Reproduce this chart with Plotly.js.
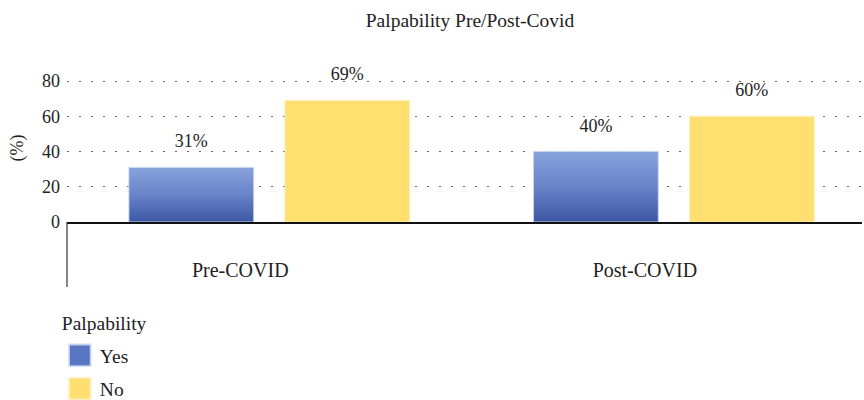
<!DOCTYPE html>
<html>
<head>
<meta charset="utf-8">
<script src="https://cdn.plot.ly/plotly-3.0.1.min.js"></script>
<style>html,body{margin:0;padding:0;background:#fff;}</style>
</head>
<body>
<div id="chart" style="width:864px;height:400px;"></div>
<script>
const categories = ["Pre-COVID", "Post-COVID"];
const seriesNames = ["Yes", "No"];
const yesValues = [31, 40];
const noValues = [69, 60];
const yTicks = [0, 20, 40, 60, 80];
const titleText = "Palpability Pre/Post-Covid";
const legendTitle = "Palpability";
const yTitle = "(%)";

const FONT = "Liberation Serif";
const BLUE = "#5876c2";
const YELLOW = "#fedf6f";

const traces = [
  {
    type: "bar", name: seriesNames[0], x: categories, y: yesValues,
    text: yesValues.map(v => v + "%"), textposition: "outside", cliponaxis: false,
    textfont: {family: FONT, size: 18, color: "#222"},
    marker: {color: BLUE, line: {color: "rgba(200,215,245,0.9)", width: 1}},
    legendgroup: "a", hoverinfo: "none"
  },
  {
    type: "bar", name: seriesNames[1], x: categories, y: noValues,
    text: noValues.map(v => v + "%"), textposition: "outside", cliponaxis: false,
    textfont: {family: FONT, size: 18, color: "#222"},
    marker: {color: YELLOW, line: {color: "rgba(255,240,190,0.9)", width: 1}},
    legendgroup: "b", hoverinfo: "none"
  }
];

const layout = {
  width: 864, height: 400,
  margin: {l: 67, r: 2, t: 74, b: 178, autoexpand: false},
  paper_bgcolor: "#fff", plot_bgcolor: "#fff",
  font: {family: FONT, color: "#222"},
  title: {text: titleText, font: {family: FONT, size: 19.5, color: "#222"},
          x: 470 / 864, xanchor: "center", y: 1 - 20 / 400, yanchor: "middle", xref: "container", yref: "container"},
  barmode: "group", bargap: 0.229, bargroupgap: 0.2,
  xaxis: {
    type: "category", range: [-0.5, 1.465], showgrid: false,
    showline: true, linecolor: "#111", linewidth: 2, ticks: "",
    tickfont: {family: FONT, size: 20, color: "#222"},
    ticklabelstandoff: 29, ticklabelshift: -29, zeroline: false
  },
  yaxis: {
    range: [0, 84], tickvals: yTicks, ticktext: yTicks.map(String),
    showline: false, zeroline: false, ticks: "",
    showgrid: true, gridcolor: "rgba(0,0,0,0.6)", griddash: "2px,10px", gridwidth: 1,
    tickfont: {family: FONT, size: 18, color: "#222"}, ticklabelstandoff: 6,
    title: {text: yTitle, font: {family: FONT, size: 18, color: "#222"}, standoff: 13}
  },
  showlegend: true,
  legend: {
    x: -0.009, xanchor: "left", y: -0.60, yanchor: "top",
    orientation: "v", traceorder: "grouped", tracegroupgap: 5,
    title: {text: legendTitle, font: {family: FONT, size: 19.5, color: "#222"}},
    font: {family: FONT, size: 19.5, color: "#222"}, bgcolor: "rgba(0,0,0,0)"
  },
  shapes: [
    {type: "line", xref: "paper", yref: "paper", x0: 0, x1: 0, y0: -65 / 148, y1: 0,
     line: {color: "#333", width: 1.2}, layer: "above"}
  ]
};

Plotly.newPlot("chart", traces, layout, {displayModeBar: false, staticPlot: true}).then(gd => {
  const svg = gd.querySelector("svg.main-svg");
  const ns = "http://www.w3.org/2000/svg";
  let defs = svg.querySelector("defs");
  if (!defs) { defs = document.createElementNS(ns, "defs"); svg.insertBefore(defs, svg.firstChild); }
  const grad = document.createElementNS(ns, "linearGradient");
  grad.setAttribute("id", "yesgrad");
  grad.setAttribute("x1", "0"); grad.setAttribute("y1", "0");
  grad.setAttribute("x2", "0"); grad.setAttribute("y2", "1");
  [["0", "#88a3dc"], ["0.5", "#6883c8"], ["1", "#3d57a4"]].forEach(([o, c]) => {
    const s = document.createElementNS(ns, "stop");
    s.setAttribute("offset", o); s.setAttribute("stop-color", c);
    grad.appendChild(s);
  });
  defs.appendChild(grad);
  const barTraces = gd.querySelectorAll(".barlayer .trace");
  if (barTraces[0]) barTraces[0].querySelectorAll(".point path").forEach(p => { p.style.fill = "url(#yesgrad)"; });
  gd.querySelectorAll(".barlayer text.bartext").forEach(t => {
    const tr = t.getAttribute("transform") || "";
    t.setAttribute("transform", "translate(0,-13) " + tr);
  });
  const grid = gd.querySelector(".gridlayer");
  const plotG = gd.querySelector(".cartesianlayer .subplot .plot");
  if (grid && plotG && plotG.parentNode) {
    plotG.parentNode.insertBefore(grid.cloneNode(true), plotG.nextSibling);
  }
  gd.querySelectorAll(".legend .legendpoints path").forEach(p => {
    const tr = p.getAttribute("transform") || "";
    p.setAttribute("transform", tr + " scale(1.8)");
  });
  const lt = gd.querySelector(".legend .legendtitletext");
  if (lt) lt.setAttribute("transform", "translate(0,-6)");
});
</script>
</body>
</html>
